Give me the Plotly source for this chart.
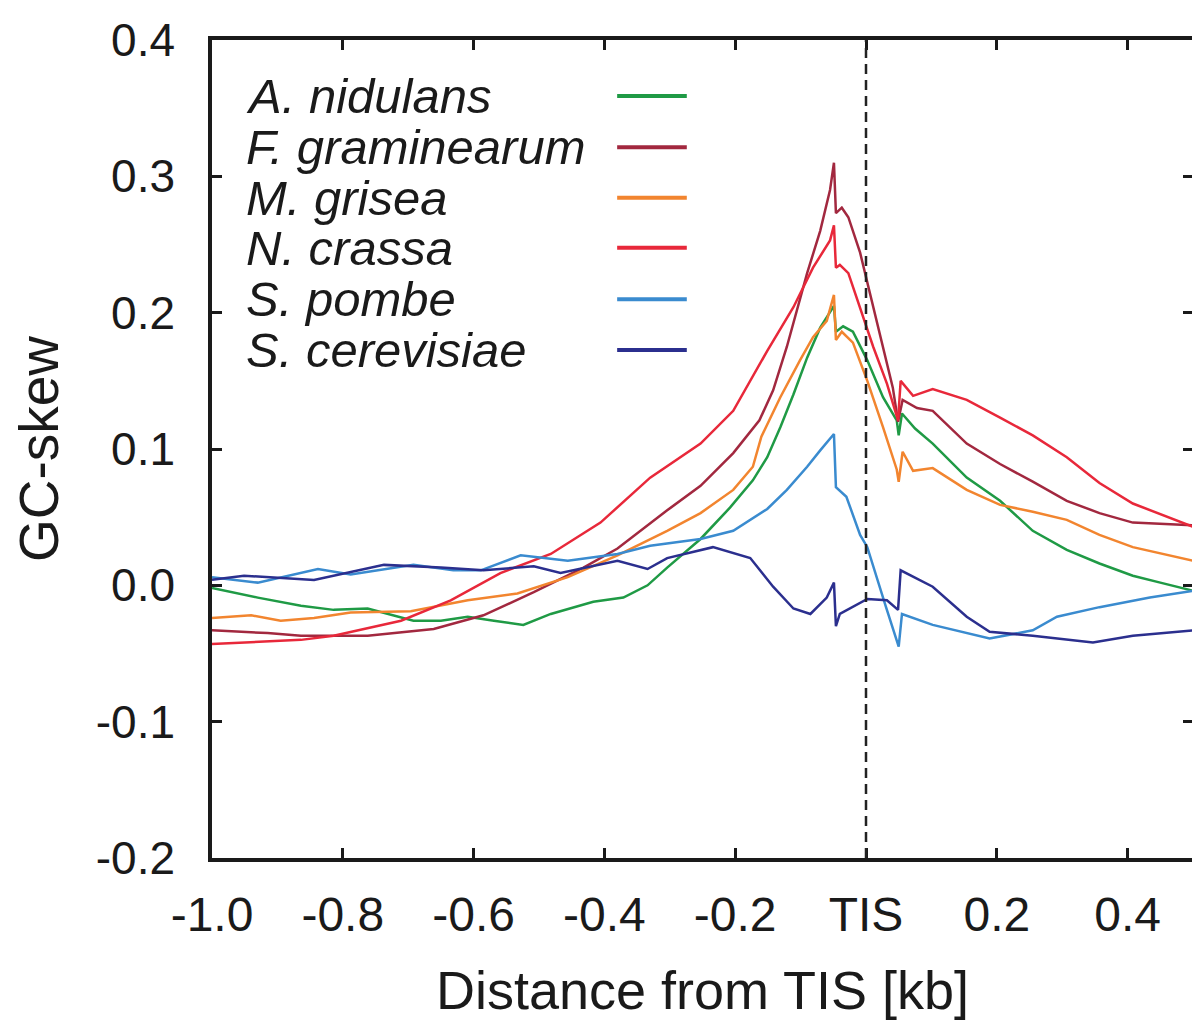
import plotly.graph_objects as go

# GC-skew around the translation initiation site (TIS)

x_an = [-1.0, -0.93, -0.864, -0.814, -0.762, -0.692, -0.65, -0.609, -0.569, -0.524, -0.482, -0.417,
        -0.371, -0.334, -0.304, -0.253, -0.208, -0.173, -0.151, -0.131, -0.111, -0.09, -0.07, -0.055,
        -0.049, -0.046, -0.035, -0.02, 0.002, 0.026, 0.047, 0.05, 0.055, 0.075, 0.102, 0.154, 0.205,
        0.255, 0.307, 0.357, 0.408, 0.45, 0.5]
y_an = [-0.002, -0.009, -0.015, -0.018, -0.017, -0.026, -0.026, -0.023, -0.026, -0.029, -0.021, -0.012,
        -0.009, 0.0, 0.013, 0.034, 0.057, 0.077, 0.094, 0.116, 0.14, 0.167, 0.189, 0.2,
        0.205, 0.186, 0.19, 0.186, 0.165, 0.138, 0.121, 0.11, 0.126, 0.115, 0.104, 0.079, 0.062,
        0.04, 0.026, 0.016, 0.007, 0.002, -0.004]

x_fg = [-1.0, -0.915, -0.864, -0.762, -0.661, -0.585, -0.508, -0.432, -0.38, -0.304, -0.253, -0.203,
        -0.163, -0.142, -0.121, -0.101, -0.09, -0.07, -0.055, -0.049, -0.046, -0.037, -0.027, -0.009,
        0.002, 0.021, 0.041, 0.049, 0.056, 0.078, 0.102, 0.154, 0.205, 0.255, 0.307, 0.357, 0.408, 0.5]
y_fg = [-0.033, -0.035, -0.037, -0.037, -0.032, -0.022, -0.005, 0.013, 0.027, 0.055, 0.073, 0.097,
        0.121, 0.143, 0.175, 0.209, 0.229, 0.26, 0.29, 0.31, 0.273, 0.277, 0.27, 0.244,
        0.222, 0.185, 0.145, 0.12, 0.136, 0.13, 0.128, 0.104, 0.089, 0.076, 0.062, 0.053, 0.046, 0.044]

x_mg = [-1.0, -0.94, -0.895, -0.844, -0.788, -0.696, -0.609, -0.533, -0.456, -0.38, -0.304, -0.253,
        -0.203, -0.173, -0.16, -0.131, -0.101, -0.081, -0.06, -0.049, -0.046, -0.037, -0.02, 0.002,
        0.026, 0.047, 0.05, 0.056, 0.072, 0.102, 0.154, 0.205, 0.255, 0.307, 0.357, 0.408, 0.5]
y_mg = [-0.024, -0.022, -0.026, -0.024, -0.02, -0.019, -0.011, -0.006, 0.006, 0.022, 0.04, 0.053,
        0.07, 0.087, 0.109, 0.138, 0.165, 0.182, 0.194, 0.213, 0.18, 0.186, 0.178, 0.15,
        0.116, 0.085, 0.076, 0.098, 0.084, 0.086, 0.07, 0.059, 0.054, 0.048, 0.037, 0.028, 0.018]

x_nc = [-1.0, -0.864, -0.814, -0.711, -0.635, -0.559, -0.482, -0.406, -0.33, -0.253, -0.203, -0.151,
        -0.111, -0.081, -0.055, -0.049, -0.046, -0.04, -0.027, -0.009, 0.011, 0.032, 0.049, 0.053,
        0.072, 0.102, 0.154, 0.205, 0.255, 0.307, 0.357, 0.408, 0.5]
y_nc = [-0.043, -0.04, -0.037, -0.026, -0.011, 0.009, 0.023, 0.046, 0.079, 0.104, 0.128, 0.172,
        0.204, 0.233, 0.253, 0.264, 0.233, 0.235, 0.229, 0.204, 0.175, 0.148, 0.121, 0.15,
        0.139, 0.144, 0.136, 0.123, 0.11, 0.094, 0.075, 0.06, 0.043]

x_sp = [-1.0, -0.93, -0.838, -0.788, -0.692, -0.631, -0.589, -0.528, -0.456, -0.38, -0.33, -0.253,
        -0.203, -0.151, -0.121, -0.09, -0.07, -0.049, -0.046, -0.03, -0.009, 0.002, 0.03, 0.05,
        0.055, 0.102, 0.189, 0.255, 0.292, 0.357, 0.434, 0.5]
y_sp = [0.006, 0.002, 0.012, 0.008, 0.015, 0.011, 0.011, 0.022, 0.018, 0.023, 0.029, 0.034,
        0.04, 0.056, 0.07, 0.087, 0.099, 0.111, 0.072, 0.065, 0.037, 0.028, -0.015, -0.045,
        -0.021, -0.029, -0.039, -0.033, -0.023, -0.016, -0.009, -0.004]

x_sc = [-1.0, -0.951, -0.844, -0.737, -0.65, -0.585, -0.508, -0.467, -0.38, -0.334, -0.304, -0.253,
        -0.234, -0.177, -0.142, -0.111, -0.085, -0.06, -0.049, -0.046, -0.04, 0.002, 0.032, 0.049,
        0.053, 0.102, 0.154, 0.189, 0.255, 0.347, 0.408, 0.5]
y_sc = [0.004, 0.007, 0.004, 0.015, 0.013, 0.011, 0.014, 0.009, 0.018, 0.012, 0.02, 0.026,
        0.028, 0.02, -0.001, -0.017, -0.021, -0.009, 0.002, -0.03, -0.021, -0.01, -0.011, -0.018,
        0.011, -0.001, -0.023, -0.034, -0.037, -0.042, -0.037, -0.033]

species = ["A. nidulans", "F. graminearum", "M. grisea", "N. crassa", "S. pombe", "S. cerevisiae"]
colors = ["#1f9a45", "#a2283f", "#f2852f", "#e8283a", "#3a8bcf", "#2b2f8e"]
xs = [x_an, x_fg, x_mg, x_nc, x_sp, x_sc]
ys = [y_an, y_fg, y_mg, y_nc, y_sp, y_sc]

xtick_vals = [-1.0, -0.8, -0.6, -0.4, -0.2, 0.0, 0.2, 0.4]
xtick_text = ["-1.0", "-0.8", "-0.6", "-0.4", "-0.2", "TIS", "0.2", "0.4"]
ytick_vals = [-0.2, -0.1, 0.0, 0.1, 0.2, 0.3, 0.4]
ytick_text = ["-0.2", "-0.1", "0.0", "0.1", "0.2", "0.3", "0.4"]

FONT = "Liberation Sans, Arial, sans-serif"

fig = go.Figure()
for name, col, x, y in zip(species, colors, xs, ys):
    fig.add_trace(go.Scatter(x=x, y=y, mode="lines", name=name,
                             line=dict(color=col, width=2.5), showlegend=False))

# TIS marker
fig.add_shape(type="line", xref="x", yref="paper", x0=0, x1=0, y0=0, y1=1,
              line=dict(color="#222222", width=2.5, dash="10px,6px"))

# hand-made legend: italic name on the left, line sample on the right
row_y = [0.9315, 0.869, 0.807, 0.746, 0.683, 0.621]
for name, col, yy in zip(species, colors, row_y):
    fig.add_annotation(text="<i>%s</i>" % name, xref="paper", yref="paper",
                       x=0.033, y=yy, xanchor="left", yanchor="middle", showarrow=False,
                       font=dict(family=FONT, size=49, color="#1a1a1a"))
    fig.add_shape(type="line", xref="paper", yref="paper", x0=0.413, x1=0.484, y0=yy, y1=yy,
                  line=dict(color=col, width=4))

axis_common = dict(showline=True, linecolor="#1a1a1a", linewidth=3.5, mirror="allticks",
                   ticks="inside", ticklen=10, tickwidth=3, tickcolor="#1a1a1a",
                   showgrid=False, zeroline=False, automargin=False)

# page body adds an 8px margin, so the figure is a little smaller than the window
fig.update_layout(
    width=1192, height=1019,
    margin=dict(l=204, r=7, t=32, b=169),
    paper_bgcolor="white", plot_bgcolor="white",
    xaxis=dict(range=[-1.0, 0.5], tickvals=xtick_vals, ticktext=xtick_text,
               tickfont=dict(family=FONT, size=48, color="#1a1a1a"), ticklabelstandoff=12,
               title=dict(text="Distance from TIS [kb]", standoff=32,
                          font=dict(family=FONT, size=54, color="#1a1a1a")),
               **axis_common),
    yaxis=dict(range=[-0.2, 0.4], tickvals=ytick_vals, ticktext=ytick_text,
               tickfont=dict(family=FONT, size=46, color="#1a1a1a"), ticklabelstandoff=24,
               title=dict(text="GC-skew", standoff=22,
                          font=dict(family=FONT, size=55, color="#1a1a1a")),
               **axis_common),
)

fig.write_html("out.html")
